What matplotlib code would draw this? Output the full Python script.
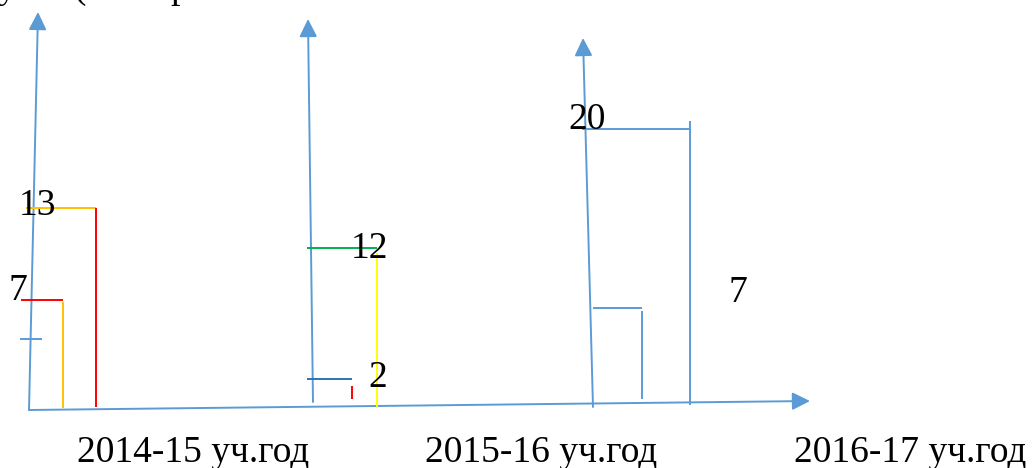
import matplotlib
matplotlib.use("Agg")
import matplotlib.pyplot as plt

# ---- data ----
years = ["2014-15 уч.год", "2015-16 уч.год", "2016-17 уч.год"]
tall_values = [13, 12, 20]     # taller bar of each year
short_values = [7, 2, 7]       # shorter bar of each year
tick_values = [4.5, None, None]  # small extra mark on first axis
top_fragments = ["у", "(", "р"]  # cut-off text at the very top

W, H = 1032, 468
BLUE = "#5B9BD5"
FONT = "Liberation Serif"
FS = 27

fig = plt.figure(figsize=(W / 100, H / 100), dpi=100)
ax = fig.add_axes([0, 0, 1, 1])
ax.set_xlim(0, W)
ax.set_ylim(H, 0)
ax.axis("off")

# layout of each group (pixel positions / styles)
groups = [
    dict(base=408, unit=15.4,
         tall=dict(x0=26, x1=96, top="#FFC000", side="#FF0000", st=0, sb=1),
         short=dict(x0=21, x1=63, top="#FF0000", side="#FFC000", st=2, sb=0),
         tall_lab=(37, 7), short_lab=(18, 0),
         axis=((29, 410), (38, 12))),
    dict(base=405, unit=13.1,
         tall=dict(x0=307, x1=377, top="#00B050", side="#FFFF00", st=5, sb=-2),
         short=dict(x0=307, x1=352, top="#2E74B5", side="#FF0000", st=7, sb=6),
         tall_lab=(370, 10), short_lab=(378, 8),
         axis=((313, 402), (308, 19))),
    dict(base=404, unit=13.75,
         tall=dict(x0=582, x1=690, top=BLUE, side=BLUE, st=-8, sb=-1),
         short=dict(x0=593, x1=642, top=BLUE, side=BLUE, st=3, sb=5),
         tall_lab=(587, 0), short_lab=(738, -6),
         axis=((593, 407), (583, 38))),
]

def arrow(p0, p1):
    ax.annotate("", xy=p1, xytext=p0,
                arrowprops=dict(arrowstyle="-|>", color=BLUE, lw=1.4,
                                mutation_scale=27, shrinkA=0, shrinkB=0))

# horizontal axis
arrow((29, 410), (810, 401))

for i, g in enumerate(groups):
    arrow(*g["axis"])
    base, unit = g["base"], g["unit"]
    ga = fig.add_axes([0, 0, 1, 1])
    ga.set_xlim(0, W)
    ga.set_ylim(-(H - base) / unit, base / unit)
    ga.axis("off")
    ga.patch.set_alpha(0)
    for val, spec, lab in ((tall_values[i], g["tall"], g["tall_lab"]),
                           (short_values[i], g["short"], g["short_lab"])):
        ga.plot([spec["x0"], spec["x1"]], [val, val], color=spec["top"], lw=1.4,
                solid_capstyle="butt")
        ga.plot([spec["x1"], spec["x1"]],
                [val - spec["st"] / unit, spec["sb"] / unit],
                color=spec["side"], lw=1.4, solid_capstyle="butt")
        ga.annotate(str(val), xy=(lab[0], val), xytext=(0, -lab[1]),
                    textcoords="offset pixels", ha="center", va="baseline",
                    fontsize=FS, family=FONT, color="black")
    if tick_values[i] is not None:
        ga.plot([21, 41], [tick_values[i]] * 2, color=BLUE, lw=1.4)

# year labels
for x, t in zip([193, 541, 910], years):
    ax.text(x, 462, t, ha="center", va="baseline", fontsize=FS, family=FONT,
            color="black")

# cut-off text at the top (only descenders visible, as in the reference)
for x, t in zip([-2, 73, 170], top_fragments):
    ax.text(x, -2, t, ha="left", va="baseline", fontsize=FS, family=FONT,
            color="black")

fig.savefig("out.png", dpi=100)
